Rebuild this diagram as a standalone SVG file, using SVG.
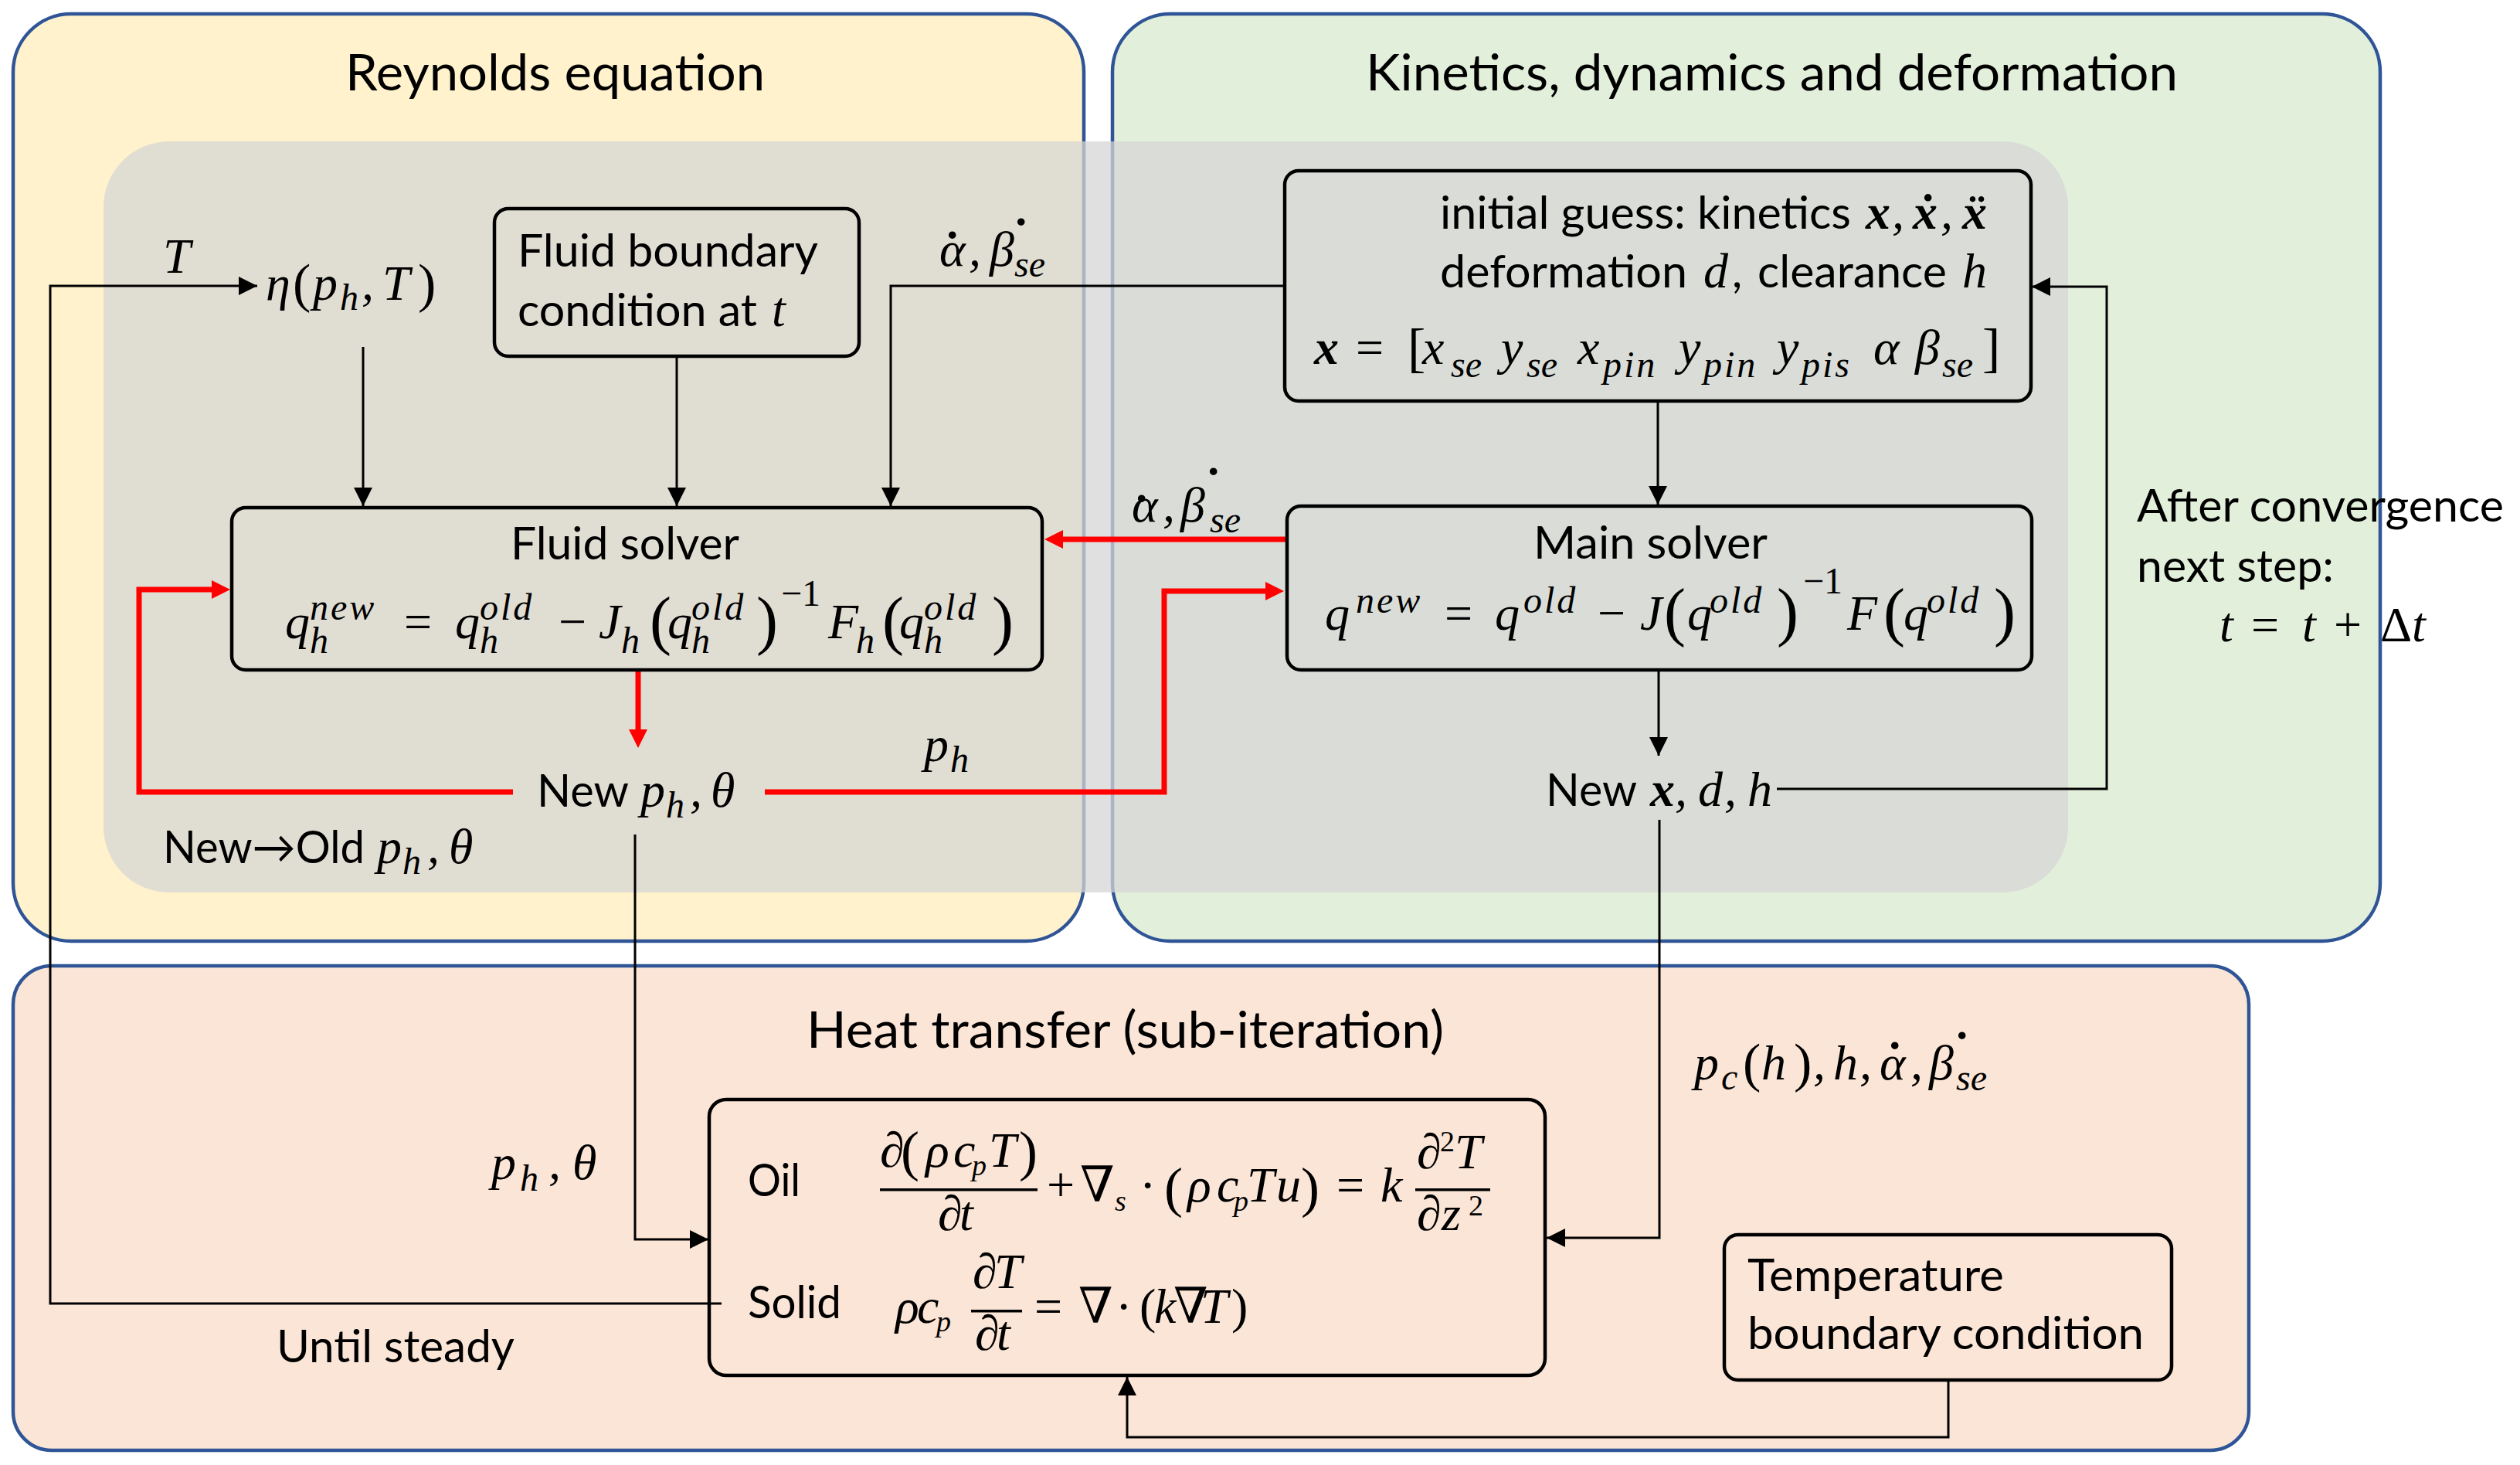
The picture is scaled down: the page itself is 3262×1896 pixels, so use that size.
<svg xmlns="http://www.w3.org/2000/svg" width="3262" height="1896" viewBox="0 0 3262 1896">
<defs>
<style>
.sans{font-family:Lato,'Open Sans','Liberation Sans',sans-serif;font-size:58px;fill:#000}
.title{font-size:65px}
.m{font-family:'Liberation Serif','DejaVu Serif',serif;font-style:italic;font-size:64px;fill:#000}
.up{font-style:normal}
.s{font-size:48px}
.w{letter-spacing:3px}
.b{font-weight:bold}
.dt{font-style:normal;font-weight:bold}
.outer{stroke:#2f5597;stroke-width:4.5}
.box{fill:none;stroke:#000;stroke-width:4.5}
.ln{fill:none;stroke:#000;stroke-width:3}
.red{fill:none;stroke:#ff0000;stroke-width:7}
.bar{fill:#000}
</style>
<marker id="ah" viewBox="0 0 24 24" refX="24" refY="12" markerWidth="24" markerHeight="24" markerUnits="userSpaceOnUse" orient="auto"><path d="M0,0L24,12L0,24z" fill="#000"/></marker>
<marker id="ahr" viewBox="0 0 24 24" refX="16" refY="12" markerWidth="24" markerHeight="24" markerUnits="userSpaceOnUse" orient="auto"><path d="M0,0L24,12L0,24z" fill="#ff0000"/></marker>
</defs>
<rect width="3262" height="1896" fill="#fff"/>

<g id="reynolds">
<rect class="outer" x="17" y="18" width="1386" height="1200" rx="75" fill="#fff2cc"/>
<text class="sans title" x="447" y="117" textLength="543" lengthAdjust="spacingAndGlyphs">Reynolds equation</text>
</g>
<g id="kinetics">
<rect class="outer" x="1440" y="18" width="1641" height="1200" rx="75" fill="#e2efda"/>
<text class="sans title" x="1768" y="117" textLength="1051" lengthAdjust="spacingAndGlyphs">Kinetics, dynamics and deformation</text>
</g>
<g id="heat">
<rect class="outer" x="17" y="1250" width="2894" height="627" rx="50" fill="#fbe5d6"/>
<text class="sans title" x="1044" y="1356" textLength="825" lengthAdjust="spacingAndGlyphs">Heat transfer (sub-iteration)</text>
</g>
<g id="iteration-region">
<rect x="134" y="183" width="2543" height="972" rx="85" fill="rgb(213,213,213)" fill-opacity="0.74"/>
</g>

<g id="connectors">
<path class="ln" d="M934,1687H65V370H333" marker-end="url(#ah)"/>
<path class="ln" d="M470,449V655" marker-end="url(#ah)"/>
<path class="ln" d="M876,461V655" marker-end="url(#ah)"/>
<path class="ln" d="M1663,370H1153V655" marker-end="url(#ah)"/>
<path class="ln" d="M2146,519V653" marker-end="url(#ah)"/>
<path class="ln" d="M2147,867V978" marker-end="url(#ah)"/>
<path class="ln" d="M2300,1021H2727V371H2630" marker-end="url(#ah)"/>
<path class="ln" d="M822,1080V1604H917" marker-end="url(#ah)"/>
<path class="ln" d="M2148,1061V1602H2002" marker-end="url(#ah)"/>
<path class="ln" d="M2522,1786V1860H1459V1782" marker-end="url(#ah)"/>
<path class="red" d="M1667,698H1360" marker-end="url(#ahr)"/>
<path class="red" d="M826,867V960" marker-end="url(#ahr)"/>
<path class="red" d="M664,1025H180V763H290" marker-end="url(#ahr)"/>
<path class="red" d="M990,1025H1507V765H1654" marker-end="url(#ahr)"/>
</g>

<g id="fluid-bc">
<rect class="box" x="640" y="270" width="472" height="191" rx="18"/>
<text class="sans" x="670" y="345" textLength="389" lengthAdjust="spacingAndGlyphs">Fluid boundary</text>
<text class="sans" x="670" y="422" textLength="310" lengthAdjust="spacingAndGlyphs">condition at</text>
<text class="m" x="999" y="422">t</text>
</g>

<g id="fluid-solver">
<rect class="box" x="300" y="657" width="1049" height="210" rx="18"/>
<text class="sans" x="661" y="724" textLength="296" lengthAdjust="spacingAndGlyphs">Fluid solver</text>
<text class="m" font-size="68px">
<tspan x="369" y="826">q</tspan><tspan class="s w" x="401" y="802">new</tspan><tspan class="s" x="401" y="845">h</tspan>
<tspan class="up" x="523" y="826">=</tspan>
<tspan x="589" y="826">q</tspan><tspan class="s w" x="621" y="802">old</tspan><tspan class="s" x="621" y="845">h</tspan>
<tspan class="up" x="723" y="826">−</tspan>
<tspan x="775" y="826">J</tspan><tspan class="s" x="804" y="845">h</tspan>
<tspan class="up" font-size="84px" x="841" y="831">(</tspan>
<tspan x="864" y="826">q</tspan><tspan class="s w" x="895" y="802">old</tspan><tspan class="s" x="895" y="845">h</tspan>
<tspan class="up" font-size="84px" x="979" y="831">)</tspan>
<tspan class="s up" x="1011" y="784">−1</tspan>
<tspan x="1072" y="826">F</tspan><tspan class="s" x="1108" y="845">h</tspan>
<tspan class="up" font-size="84px" x="1142" y="831">(</tspan>
<tspan x="1164" y="826">q</tspan><tspan class="s w" x="1196" y="802">old</tspan><tspan class="s" x="1196" y="845">h</tspan>
<tspan class="up" font-size="84px" x="1284" y="831">)</tspan>
</text>
</g>

<g id="initial-guess">
<rect class="box" x="1663" y="221" width="966" height="298" rx="18"/>
<text class="sans" x="1864" y="296" textLength="532" lengthAdjust="spacingAndGlyphs">initial guess: kinetics</text>
<text class="m">
<tspan class="b" x="2415" y="296">x</tspan><tspan x="2449" y="296">,</tspan><tspan class="b" x="2476" y="296">x&#x307;</tspan><tspan x="2512" y="296">,</tspan><tspan class="b" x="2540" y="296">x&#x308;</tspan>
</text>
<text class="sans" x="1864" y="372" textLength="320" lengthAdjust="spacingAndGlyphs">deformation</text>
<text class="m" x="2205" y="372">d</text>
<text class="sans" x="2242" y="372">,</text>
<text class="sans" x="2275" y="372" textLength="245" lengthAdjust="spacingAndGlyphs">clearance</text>
<text class="m" x="2540" y="372">h</text>
<text class="m" font-size="66px">
<tspan class="b" x="1701" y="471">x</tspan>
<tspan class="up" x="1755" y="471">=</tspan>
<tspan class="up" font-size="70px" x="1822" y="474">[</tspan>
<tspan x="1841" y="471">x</tspan><tspan class="s" x="1878" y="488">se</tspan>
<tspan x="1943" y="471">y</tspan><tspan class="s" x="1976" y="488">se</tspan>
<tspan x="2042" y="471">x</tspan><tspan class="s w" x="2075" y="488">pin</tspan>
<tspan x="2173" y="471">y</tspan><tspan class="s w" x="2205" y="488">pin</tspan>
<tspan x="2300" y="471">y</tspan><tspan class="s w" x="2332" y="488">pis</tspan>
<tspan x="2425" y="471">α</tspan>
<tspan x="2479" y="471">β</tspan><tspan class="s" x="2514" y="488">se</tspan>
<tspan class="up" font-size="70px" x="2566" y="474">]</tspan>
</text>
</g>

<g id="main-solver">
<rect class="box" x="1666" y="655" width="964" height="212" rx="18"/>
<text class="sans" x="1985" y="723" textLength="303" lengthAdjust="spacingAndGlyphs">Main solver</text>
<text class="m" font-size="68px">
<tspan x="1715" y="815">q</tspan><tspan class="s w" x="1755" y="793">new</tspan>
<tspan class="up" x="1870" y="815">=</tspan>
<tspan x="1935" y="815">q</tspan><tspan class="s w" x="1972" y="793">old</tspan>
<tspan class="up" x="2068" y="815">−</tspan>
<tspan x="2123" y="815">J</tspan>
<tspan class="up" font-size="84px" x="2154" y="820">(</tspan>
<tspan x="2184" y="815">q</tspan><tspan class="s w" x="2213" y="793">old</tspan>
<tspan class="up" font-size="84px" x="2300" y="820">)</tspan>
<tspan class="s up" x="2334" y="768">−1</tspan>
<tspan x="2391" y="815">F</tspan>
<tspan class="up" font-size="84px" x="2438" y="820">(</tspan>
<tspan x="2464" y="815">q</tspan><tspan class="s w" x="2494" y="793">old</tspan>
<tspan class="up" font-size="84px" x="2581" y="820">)</tspan>
</text>
</g>

<g id="eta">
<text class="m" x="211" y="353" font-size="60px">T</text>
<text class="m" font-size="62px">
<tspan x="344" y="388">η</tspan><tspan class="up" font-size="70px" x="379" y="390">(</tspan><tspan x="405" y="388">p</tspan><tspan class="s" x="440" y="401">h</tspan><tspan x="468" y="388">,</tspan><tspan x="495" y="388">T</tspan><tspan class="up" font-size="70px" x="541" y="390">)</tspan>
</text>
</g>

<g id="labels">
<text class="m" font-size="60px"><tspan x="1216" y="344">α</tspan><tspan class="dt" x="1222" y="344">˙</tspan><tspan x="1254" y="344">,</tspan><tspan x="1281" y="344">β</tspan><tspan class="dt" x="1311" y="327">˙</tspan><tspan class="s" x="1313" y="358">se</tspan></text>
<text class="m" font-size="60px"><tspan x="1465" y="675">α</tspan><tspan class="dt" x="1467" y="685">˙</tspan><tspan x="1505" y="675">,</tspan><tspan x="1528" y="675">β</tspan><tspan class="dt" x="1560" y="650">˙</tspan><tspan class="s" x="1566" y="689">se</tspan></text>
<text class="m" font-size="64px"><tspan x="1196" y="985">p</tspan><tspan class="s" x="1230" y="999">h</tspan></text>
<text class="m" font-size="68px"><tspan x="636" y="1526">p</tspan><tspan class="s" x="673" y="1541">h</tspan><tspan x="710" y="1526">,</tspan><tspan x="741" y="1526">θ</tspan></text>
<text class="m" font-size="64px"><tspan x="2193" y="1397">p</tspan><tspan class="s" x="2228" y="1410">c</tspan><tspan class="up" font-size="70px" x="2256" y="1399">(</tspan><tspan x="2280" y="1397">h</tspan><tspan class="up" font-size="70px" x="2322" y="1399">)</tspan><tspan x="2347" y="1397">,</tspan><tspan x="2373" y="1397">h</tspan><tspan x="2407" y="1397">,</tspan><tspan x="2433" y="1397">α</tspan><tspan class="dt" x="2442" y="1393">˙</tspan><tspan x="2473" y="1397">,</tspan><tspan x="2497" y="1397">β</tspan><tspan class="dt" x="2529" y="1380">˙</tspan><tspan class="s" x="2532" y="1411">se</tspan></text>
<text class="sans" x="2766" y="675" textLength="475" lengthAdjust="spacingAndGlyphs">After convergence</text>
<text class="sans" x="2766" y="753" textLength="255" lengthAdjust="spacingAndGlyphs">next step:</text>
<text class="m" font-size="64px"><tspan x="2873" y="830">t</tspan><tspan class="up" x="2914" y="830">=</tspan><tspan x="2980" y="830">t</tspan><tspan class="up" x="3021" y="830">+</tspan><tspan class="up" x="3081" y="830">Δ</tspan><tspan x="3122" y="830">t</tspan></text>
<text class="sans" x="211" y="1117" textLength="261" lengthAdjust="spacingAndGlyphs">New→Old</text>
<text class="m" font-size="62px"><tspan x="488" y="1117">p</tspan><tspan class="s" x="521" y="1131">h</tspan><tspan x="553" y="1117">,</tspan><tspan x="581" y="1117">θ</tspan></text>
<text class="sans" x="358" y="1763" textLength="308" lengthAdjust="spacingAndGlyphs">Until steady</text>
</g>

<g id="new-p">
<text class="sans" x="695" y="1044" textLength="119" lengthAdjust="spacingAndGlyphs">New</text>
<text class="m" font-size="62px"><tspan x="829" y="1044">p</tspan><tspan class="s" x="862" y="1058">h</tspan><tspan x="893" y="1044">,</tspan><tspan x="920" y="1044">θ</tspan></text>
</g>

<g id="new-x">
<text class="sans" x="2001" y="1043" textLength="118" lengthAdjust="spacingAndGlyphs">New</text>
<text class="m" font-size="62px"><tspan class="b" x="2136" y="1043">x</tspan><tspan x="2168" y="1043">,</tspan><tspan x="2198" y="1043">d</tspan><tspan x="2232" y="1043">,</tspan><tspan x="2262" y="1043">h</tspan></text>
</g>

<g id="heat-equations">
<rect class="box" x="918" y="1423" width="1082" height="357" rx="22"/>
<text class="sans" x="968" y="1548" textLength="68" lengthAdjust="spacingAndGlyphs">Oil</text>
<text class="sans" x="968" y="1706" textLength="121" lengthAdjust="spacingAndGlyphs">Solid</text>
<text class="m" font-size="54px">
<tspan x="1139" y="1510">∂</tspan><tspan class="up" font-size="72px" x="1166" y="1514">(</tspan><tspan x="1198" y="1510">ρ</tspan><tspan x="1234" y="1510">c</tspan><tspan font-size="38px" x="1258" y="1521">p</tspan><tspan x="1280" y="1510">T</tspan><tspan class="up" font-size="72px" x="1319" y="1514">)</tspan>
<tspan x="1214" y="1592">∂</tspan><tspan x="1242" y="1592">t</tspan>
<tspan class="up" x="1355" y="1555">+</tspan><tspan class="up" x="1398" y="1555">∇</tspan><tspan font-size="38px" x="1443" y="1567">s</tspan><tspan class="up" x="1475" y="1555">·</tspan>
<tspan class="up" font-size="72px" x="1507" y="1561">(</tspan><tspan x="1537" y="1555">ρ</tspan><tspan x="1575" y="1555">c</tspan><tspan font-size="38px" x="1597" y="1567">p</tspan><tspan x="1614" y="1555">T</tspan><tspan x="1652" y="1555">u</tspan><tspan class="up" font-size="72px" x="1684" y="1561">)</tspan>
<tspan class="up" x="1730" y="1555">=</tspan><tspan x="1787" y="1555">k</tspan>
<tspan x="1834" y="1512">∂</tspan><tspan class="up" font-size="38px" x="1864" y="1490">2</tspan><tspan x="1883" y="1512">T</tspan>
<tspan x="1834" y="1592">∂</tspan><tspan x="1866" y="1592">z</tspan><tspan class="up" font-size="38px" x="1901" y="1573">2</tspan>
<tspan x="1159" y="1712">ρ</tspan><tspan x="1187" y="1712">c</tspan><tspan font-size="38px" x="1212" y="1723">p</tspan>
<tspan x="1259" y="1667">∂</tspan><tspan x="1287" y="1667">T</tspan>
<tspan x="1262" y="1747">∂</tspan><tspan x="1290" y="1747">t</tspan>
<tspan class="up" x="1339" y="1712">=</tspan><tspan class="up" x="1396" y="1712">∇</tspan><tspan class="up" x="1444" y="1712">·</tspan><tspan class="up" x="1475" y="1712">(</tspan><tspan x="1494" y="1712">k</tspan><tspan class="up" x="1519" y="1712">∇</tspan><tspan x="1554" y="1712">T</tspan><tspan class="up" x="1594" y="1712">)</tspan>
</text>
<rect class="bar" x="1139" y="1538" width="204" height="3.5"/>
<rect class="bar" x="1832" y="1538" width="97" height="3.5"/>
<rect class="bar" x="1257" y="1695" width="66" height="3.5"/>
</g>

<g id="temperature-bc">
<rect class="box" x="2232" y="1598" width="579" height="188" rx="18"/>
<text class="sans" x="2262" y="1671" textLength="332" lengthAdjust="spacingAndGlyphs">Temperature</text>
<text class="sans" x="2262" y="1746" textLength="513" lengthAdjust="spacingAndGlyphs">boundary condition</text>
</g>
</svg>
